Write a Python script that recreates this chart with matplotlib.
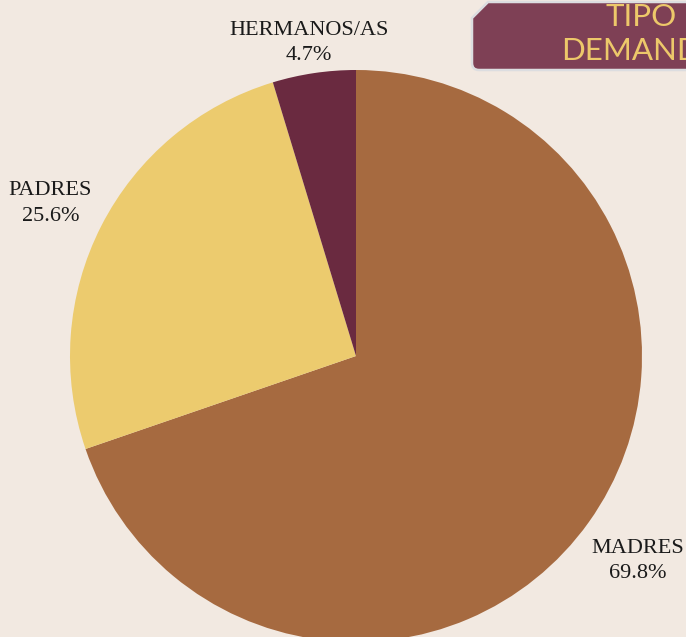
import matplotlib
matplotlib.use("Agg")
import matplotlib.pyplot as plt
import numpy as np
from matplotlib.patches import PathPatch
from matplotlib.path import Path

categories = ["MADRES", "PADRES", "HERMANOS/AS"]
values = [69.8, 25.6, 4.7]
pct_labels = ["69.8%", "25.6%", "4.7%"]
colors = ["#A66A40", "#ECCB6E", "#6A2A40"]
title_text = "TIPO\nDEMANDA"

W, H = 686, 637
BG = "#F2E9E1"

fig = plt.figure(figsize=(W / 100, H / 100), dpi=100, facecolor=BG)
ax = fig.add_axes([0, 0, 1, 1])
ax.set_facecolor(BG)

def Y(py):
    return H - py

cx, cy, r = 356, Y(356), 286
wedges, _ = ax.pie(values, colors=colors, startangle=90, counterclock=False,
                   center=(cx, cy), radius=r,
                   wedgeprops=dict(linewidth=0, antialiased=True))
ax.set_xlim(0, W)
ax.set_ylim(0, H)
ax.set_aspect("auto")
ax.axis("off")

label_dist = [1.212, 1.2, 1.12]
for w, cat, pct, d in zip(wedges, categories, pct_labels, label_dist):
    mid = np.deg2rad((w.theta1 + w.theta2) / 2)
    x = cx + d * r * np.cos(mid)
    y = cy + d * r * np.sin(mid) - 3.5
    ax.text(x, y, f"{cat}\n{pct}", ha="center", va="center",
            family=["Liberation Serif", "DejaVu Serif"], fontsize=16,
            color="#1a1a1a", linespacing=1.45)

# title box (chamfered top-left, rounded bottom-left), extends past right edge
x0, x1 = 472, 720
t, b = 2, 70
ch, rr = 16, 7
verts = [(x0 + ch, Y(t)), (x1, Y(t)), (x1, Y(b)), (x0 + rr, Y(b)),
         (x0, Y(b)), (x0, Y(b - rr)), (x0, Y(t + ch)), (x0 + ch, Y(t))]
codes = [Path.MOVETO, Path.LINETO, Path.LINETO, Path.LINETO,
         Path.CURVE3, Path.CURVE3, Path.LINETO, Path.CLOSEPOLY]
box = PathPatch(Path(verts, codes), facecolor="#7E4055", edgecolor="#DCDDE0",
                linewidth=1.8, clip_on=False)
ax.add_patch(box)
ax.text(641, Y(34), title_text, ha="center", va="center", multialignment="center",
        family=["Lato", "DejaVu Sans"], fontsize=22.5, color="#EDC86A",
        linespacing=1.25)

fig.savefig("out.png", dpi=100, facecolor=BG)
